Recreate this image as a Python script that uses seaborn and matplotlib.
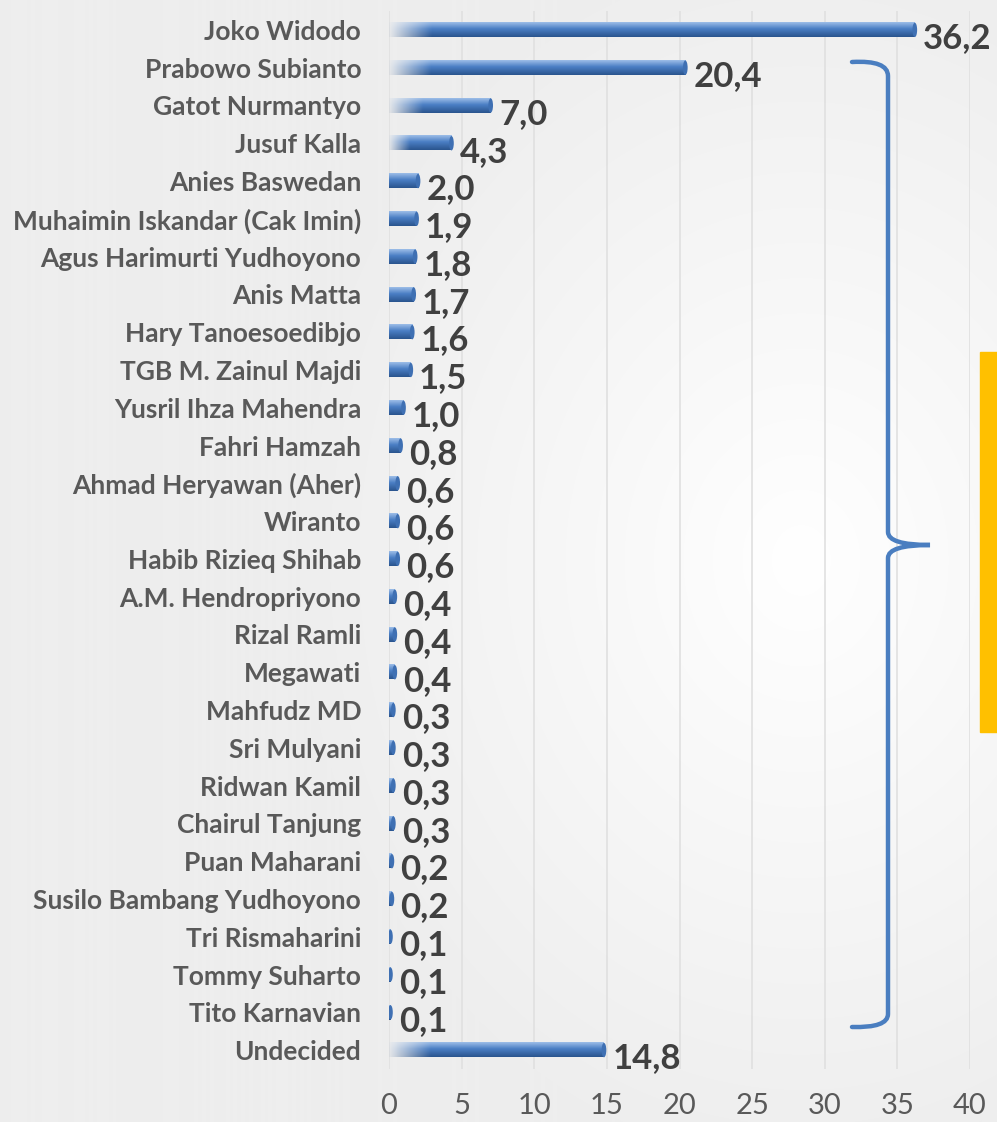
import numpy as np
import matplotlib
matplotlib.use("Agg")
import matplotlib.pyplot as plt
import seaborn as sns
import pandas as pd
from matplotlib.path import Path
from matplotlib.patches import PathPatch, Rectangle, Ellipse

names = ["Joko Widodo", "Prabowo Subianto", "Gatot Nurmantyo", "Jusuf Kalla",
         "Anies Baswedan", "Muhaimin Iskandar (Cak Imin)", "Agus Harimurti Yudhoyono",
         "Anis Matta", "Hary Tanoesoedibjo", "TGB M. Zainul Majdi",
         "Yusril Ihza Mahendra", "Fahri Hamzah", "Ahmad Heryawan (Aher)", "Wiranto",
         "Habib Rizieq Shihab", "A.M. Hendropriyono", "Rizal Ramli", "Megawati",
         "Mahfudz MD", "Sri Mulyani", "Ridwan Kamil", "Chairul Tanjung",
         "Puan Maharani", "Susilo Bambang Yudhoyono", "Tri Rismaharini",
         "Tommy Suharto", "Tito Karnavian", "Undecided"]
values = [36.2, 20.4, 7.0, 4.3, 2.0, 1.9, 1.8, 1.7, 1.6, 1.5, 1.0, 0.8, 0.6, 0.6,
          0.6, 0.4, 0.4, 0.4, 0.3, 0.3, 0.3, 0.3, 0.2, 0.2, 0.1, 0.1, 0.1, 14.8]
xticks = [0, 5, 10, 15, 20, 25, 30, 35, 40]

df = pd.DataFrame({"name": names, "value": values})

sns.set_style("white")
plt.rcParams['font.family'] = ['Lato', 'DejaVu Sans']

W, H = 997, 1122
fig = plt.figure(figsize=(W / 100, H / 100), dpi=100)
fig.patch.set_facecolor("#F1F1F1")

# soft background glow
bg = fig.add_axes([0, 0, 1, 1], zorder=-5)
yy, xx = np.mgrid[0:H, 0:W]
d = np.sqrt(((xx - 800) / 500.0) ** 2 + ((yy - 560) / 600.0) ** 2)
glow = np.clip(1 - d, 0, 1)
img = np.zeros((H, W, 3))
base = np.array([0xEE, 0xEE, 0xEE]) / 255.0
for c in range(3):
    img[:, :, c] = base[c] + (1 - base[c]) * glow
bg.imshow(img, aspect="auto", extent=(0, 1, 0, 1))
bg.axis("off")

ax = fig.add_axes([389 / W, 1 - 1069 / H, (970 - 389) / W, (1069 - 11) / H])
ax.patch.set_alpha(0)
sns.barplot(data=df, y="name", x="value", orient="h", color="#4F81BD",
            width=0.38, ax=ax)

# replace flat bars with shaded gradient bars
top = np.array([0x9C, 0xBD, 0xE8]) / 255.0
mid = np.array([0x4A, 0x7E, 0xC4]) / 255.0
bot = np.array([0x2A, 0x55, 0x8E]) / 255.0
rows = 40
t = np.linspace(0, 1, rows)
col = np.zeros((rows, 3))
for i, tv in enumerate(t):
    if tv < 0.45:
        k = tv / 0.45
        col[i] = top * (1 - k) + mid * k
    else:
        k = (tv - 0.45) / 0.55
        col[i] = mid * (1 - k) + bot * k

for p in ax.patches[:]:
    x0, y0, w, h = p.get_x(), p.get_y(), p.get_width(), p.get_height()
    p.set_visible(False)
    cols = 200
    xs = np.linspace(0, w, cols)
    if w > 3:
        alpha = np.clip(0.05 + xs / min(3.0, 0.35 * w), 0, 1)
    else:
        alpha = np.ones(cols)
    rgba = np.zeros((rows, cols, 4))
    rgba[:, :, :3] = col[:, None, :]
    rgba[:, :, 3] = alpha[None, :]
    ax.imshow(rgba, extent=(x0, x0 + w, y0, y0 + h), origin="lower",
              aspect="auto", zorder=3, interpolation="bilinear")
    # rounded end cap
    ax.add_patch(Ellipse((x0 + w, y0 + h / 2), 0.32, h, facecolor="#3F70B3",
                         edgecolor="none", zorder=4))

for i, v in enumerate(values):
    ax.annotate(f"{v:.1f}".replace(".", ","), xy=(v, i), xytext=(6, -6),
                textcoords="offset points", ha="left", va="center",
                fontsize=25, fontweight="bold", color="#404040", zorder=5)

ax.set_xlim(0, 40)
ax.set_ylim(len(names) - 0.5, -0.5)
ax.set_xticks(xticks)
ax.set_xticklabels([str(x) for x in xticks], fontsize=21, color="#595959")
ax.set_yticks(range(len(names)))
ax.set_yticklabels(names, fontsize=19, fontweight="bold", color="#595959")
ax.tick_params(axis="x", length=0, pad=17)
ax.tick_params(axis="y", length=0, pad=20)
ax.set_xlabel("")
ax.set_ylabel("")
ax.grid(axis="x", color="#E0E0E0", lw=1.2)
ax.set_axisbelow(True)
for s in ax.spines.values():
    s.set_visible(False)

# curly bracket on the right
pts = [(852, 62), (888, 60), (888, 76), (888, 532), (888, 545), (930, 545),
       (888, 545), (888, 558), (888, 1014), (888, 1028), (852, 1027)]
codes = [Path.MOVETO, Path.CURVE3, Path.CURVE3, Path.LINETO, Path.CURVE3, Path.CURVE3,
         Path.CURVE3, Path.CURVE3, Path.LINETO, Path.CURVE3, Path.CURVE3]
fpts = [(x / W, 1 - y / H) for x, y in pts]
fig.add_artist(PathPatch(Path(fpts, codes), fill=False, edgecolor="#4A7EC0",
                         lw=3.2, transform=fig.transFigure, capstyle="round"))

fig.add_artist(Rectangle((980 / W, 1 - 732 / H), 17 / W, 380 / H,
                         transform=fig.transFigure, color="#FFC000"))

fig.savefig("out.png", dpi=100, facecolor=fig.get_facecolor())
